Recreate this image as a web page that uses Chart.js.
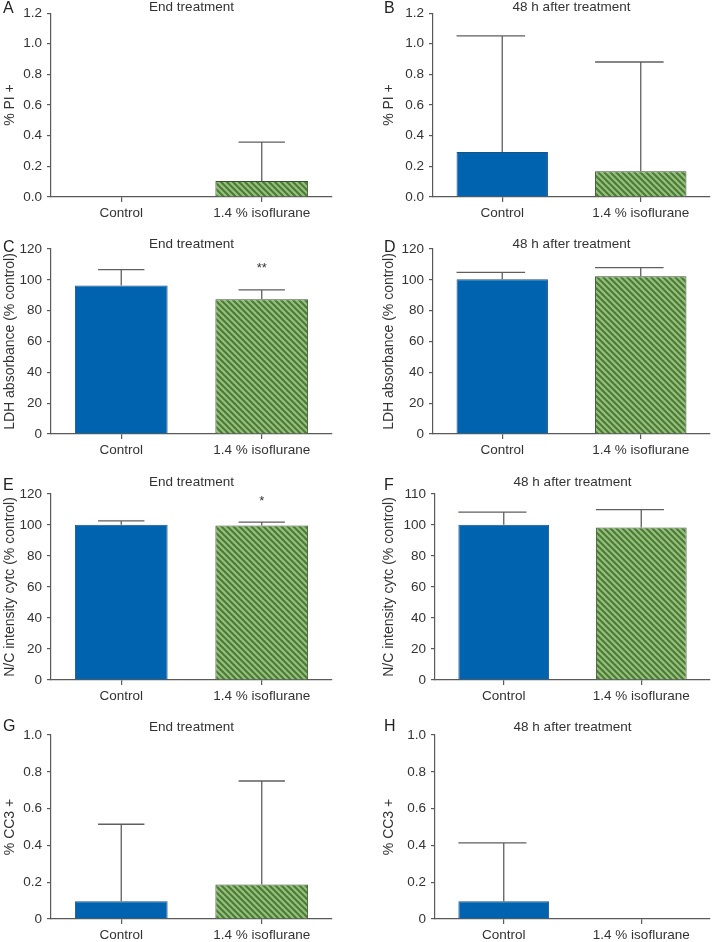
<!DOCTYPE html>
<html>
<head>
<meta charset="utf-8">
<script src="https://cdn.jsdelivr.net/npm/chart.js@4"></script>
<style>
  body { margin: 0; background: #fff; }
  #wrap { position: relative; width: 714px; height: 942px; overflow: hidden; background: #fff; }
  #wrap canvas { position: absolute; }
</style>
</head>
<body>
<div id="wrap"></div>
<script>
// ---- Data ----
const groups = ["Control", "1.4 % isoflurane"];

// A / B : % PI +
const piEndMean = [0, 0.105];
const piEndSD = [0, 0.253];
const pi48Mean = [0.293, 0.168];
const pi48SD = [0.758, 0.713];

// C / D : LDH absorbance (% control)
const ldhEndMean = [96.3, 87.4];
const ldhEndSD = [10.3, 6.1];
const ldhEndSig = ["", "**"];
const ldh48Mean = [100.4, 102.3];
const ldh48SD = [4.5, 5.6];

// E / F : N/C intensity cytc (% control)
const cytcEndMean = [100.1, 99.7];
const cytcEndSD = [2.6, 2.2];
const cytcEndSig = ["", "*"];
const cytc48Mean = [100.1, 98.4];
const cytc48SD = [8.2, 11.5];

// G / H : % CC3 +
const cc3EndMean = [0.096, 0.188];
const cc3EndSD = [0.419, 0.562];
const cc348Mean = [0.096, 0];
const cc348SD = [0.318, 0];

// tick labels (panel F really is labelled 110 at its top tick)
const ticksPI = ["0.0", "0.2", "0.4", "0.6", "0.8", "1.0", "1.2"];
const ticksPct = ["0", "20", "40", "60", "80", "100", "120"];
const ticksPctF = ["0", "20", "40", "60", "80", "100", "110"];
const ticksCC3 = ["0", "0.2", "0.4", "0.6", "0.8", "1.0"];

// ---- Styling ----
const FONT = "'Liberation Sans', Arial, Helvetica, sans-serif";
Chart.defaults.font.family = FONT;
Chart.defaults.font.size = 13.5;
Chart.defaults.color = "#333";

const AXIS = "#5a5a5a";
const BLUE = "#0063af";

// diagonal green hatch used for the isoflurane bars
function makeHatch() {
  const c = document.createElement("canvas");
  c.width = 6; c.height = 6;
  const g = c.getContext("2d");
  g.fillStyle = "#4b7a39";
  g.fillRect(0, 0, 6, 6);
  g.strokeStyle = "#95c079";
  g.lineWidth = 2.2;
  g.beginPath();
  g.moveTo(-1, -1); g.lineTo(7, 7);
  g.moveTo(-1, 5); g.lineTo(1, 7);
  g.moveTo(5, -1); g.lineTo(7, 1);
  g.stroke();
  return g.createPattern(c, "repeat");
}

// error bars (mean + SD, upper only) and significance stars
const errorBarPlugin = {
  id: "errorBars",
  afterDatasetsDraw(chart, args, opts) {
    const { ctx } = chart;
    const y = chart.scales.y;
    const meta = chart.getDatasetMeta(0);
    const means = chart.data.datasets[0].data;
    ctx.save();
    ctx.strokeStyle = "#5f5f5f";
    ctx.lineWidth = 1.3;
    meta.data.forEach((bar, i) => {
      const sd = opts.sd[i];
      if (sd) {
        const yTop = y.getPixelForValue(means[i]);
        const yUp = y.getPixelForValue(means[i] + sd);
        ctx.beginPath();
        ctx.moveTo(bar.x, yTop);
        ctx.lineTo(bar.x, yUp);
        ctx.moveTo(bar.x - bar.width * opts.capLeft, yUp);
        ctx.lineTo(bar.x + bar.width * opts.capRight, yUp);
        ctx.stroke();
      }
      if (opts.sig && opts.sig[i]) {
        const yUp = y.getPixelForValue(means[i] + (sd || 0));
        ctx.fillStyle = "#333";
        ctx.font = "13px " + FONT;
        ctx.textAlign = "center";
        ctx.textBaseline = "middle";
        ctx.fillText(opts.sig[i], bar.x, yUp - 21);
      }
    });
    ctx.restore();
  }
};

// panel title (centred on the plot area) and panel letter
const panelTextPlugin = {
  id: "panelText",
  afterDraw(chart, args, opts) {
    const { ctx, chartArea } = chart;
    ctx.save();
    ctx.fillStyle = "#333";
    ctx.textBaseline = "middle";
    ctx.font = "13.5px " + FONT;
    ctx.textAlign = "center";
    ctx.fillText(opts.title, (chartArea.left + chartArea.right) / 2, opts.titleY);
    ctx.font = "16px " + FONT;
    ctx.textAlign = "left";
    ctx.fillStyle = "#222";
    ctx.fillText(opts.letter, opts.letterX, opts.letterY);
    ctx.restore();
  }
};

// ---- Panel layout (positions in page pixels) ----
const cols = [
  { left: 0, width: 340, padRight: 8, titleX: 10 },
  { left: 357, width: 357, padRight: 4, titleX: 32 }
];
const rows = [
  { top: 0, padTop: 11, plotH: 186, xH: 26, titleY: 7, letterY: 9 },
  { top: 232, padTop: 17, plotH: 185, xH: 26, titleY: 244, letterY: 248 },
  { top: 470, padTop: 24, plotH: 186, xH: 26, titleY: 482, letterY: 486 },
  { top: 715, padTop: 20, plotH: 184, xH: 23, titleY: 727, letterY: 727 }
];

const panels = [
  { letter: "A", col: 0, row: 0, title: "End treatment", yTitle: "% PI +", mean: piEndMean, sd: piEndSD, max: 1.2, step: 0.2, ticks: ticksPI, yW: 51 },
  { letter: "B", col: 1, row: 0, title: "48 h after treatment", yTitle: "% PI +", mean: pi48Mean, sd: pi48SD, max: 1.2, step: 0.2, ticks: ticksPI, yW: 76 },
  { letter: "C", col: 0, row: 1, title: "End treatment", yTitle: "LDH absorbance (% control)", mean: ldhEndMean, sd: ldhEndSD, sig: ldhEndSig, max: 120, step: 20, ticks: ticksPct, yW: 51 },
  { letter: "D", col: 1, row: 1, title: "48 h after treatment", yTitle: "LDH absorbance (% control)", mean: ldh48Mean, sd: ldh48SD, max: 120, step: 20, ticks: ticksPct, yW: 76 },
  { letter: "E", col: 0, row: 2, title: "End treatment", yTitle: "N/C intensity cytc (% control)", mean: cytcEndMean, sd: cytcEndSD, sig: cytcEndSig, max: 120, step: 20, ticks: ticksPct, yW: 51 },
  { letter: "F", col: 1, row: 2, title: "48 h after treatment", yTitle: "N/C intensity cytc (% control)", mean: cytc48Mean, sd: cytc48SD, max: 120, step: 20, ticks: ticksPctF, yW: 78 },
  { letter: "G", col: 0, row: 3, title: "End treatment", yTitle: "% CC3 +", mean: cc3EndMean, sd: cc3EndSD, max: 1.0, step: 0.2, ticks: ticksCC3, yW: 51 },
  { letter: "H", col: 1, row: 3, title: "48 h after treatment", yTitle: "% CC3 +", mean: cc348Mean, sd: cc348SD, max: 1.0, step: 0.2, ticks: ticksCC3, yW: 78 }
];

const wrap = document.getElementById("wrap");
const hatch = makeHatch();

panels.forEach(p => {
  const col = cols[p.col];
  const row = rows[p.row];
  const h = row.padTop + row.plotH + row.xH;

  const canvas = document.createElement("canvas");
  canvas.width = col.width;
  canvas.height = h;
  canvas.style.left = col.left + "px";
  canvas.style.top = row.top + "px";
  canvas.style.width = col.width + "px";
  canvas.style.height = h + "px";
  wrap.appendChild(canvas);

  new Chart(canvas, {
    type: "bar",
    data: {
      labels: groups,
      datasets: [{
        data: p.mean,
        backgroundColor: [BLUE, hatch],
        borderColor: ["#1d4f80", "#3d5234"],
        borderWidth: 1,
        barPercentage: 0.66,
        categoryPercentage: 1
      }]
    },
    options: {
      responsive: false,
      animation: false,
      devicePixelRatio: 1,
      layout: { padding: { top: row.padTop, right: col.padRight, left: 0, bottom: 0 } },
      plugins: {
        legend: { display: false },
        tooltip: { enabled: false },
        errorBars: {
          sd: p.sd,
          sig: p.sig,
          capLeft: p.col === 0 ? 0.25 : 0.5,
          capRight: 0.25
        },
        panelText: {
          title: p.title,
          titleY: row.titleY - row.top,
          letter: p.letter,
          letterX: p.col === 0 ? 3 : 27,
          letterY: row.letterY - row.top
        }
      },
      scales: {
        x: {
          offset: true,
          grid: { offset: false, drawOnChartArea: false, drawTicks: true, tickLength: 5, color: AXIS, lineWidth: 1.2 },
          border: { display: true, color: AXIS, width: 1.2 },
          ticks: { padding: 3, color: "#333", font: { size: 13.5 } },
          afterFit: s => { s.height = row.xH; }
        },
        y: {
          min: 0,
          max: p.max,
          grid: { drawOnChartArea: false, drawTicks: true, tickLength: 4, color: AXIS, lineWidth: 1.2 },
          border: { display: true, color: AXIS, width: 1.2 },
          ticks: {
            stepSize: p.step,
            padding: 5,
            color: "#333",
            font: { size: 13.5 },
            callback: (v, i) => p.ticks[i]
          },
          title: {
            display: true,
            text: p.yTitle,
            color: "#333",
            font: { size: 14 },
            padding: { top: col.titleX - 8.4, bottom: 0 }
          },
          afterFit: s => { s.width = p.yW; }
        }
      }
    },
    plugins: [errorBarPlugin, panelTextPlugin]
  });
});
</script>
</body>
</html>
